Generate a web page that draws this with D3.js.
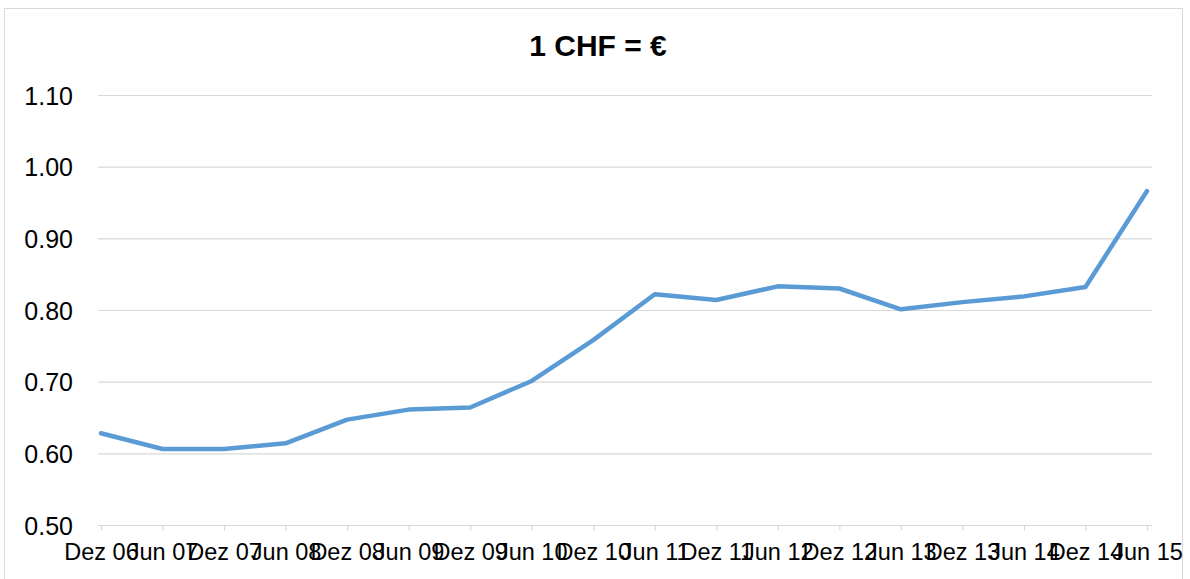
<!DOCTYPE html>
<html>
<head>
<meta charset="utf-8">
<script src="https://cdn.jsdelivr.net/npm/d3@7"></script>
<style>
  body { margin: 0; background: #fff; }
  text { font-family: "Liberation Sans", Arial, sans-serif; fill: #000; }
</style>
</head>
<body>
<div id="line"></div>
<script>
let categories = ["Dez 06", "Jun 07", "Dez 07", "Jun 08", "Dez 08", "Jun 09",
                  "Dez 09", "Jun 10", "Dez 10", "Jun 11", "Dez 11", "Jun 12",
                  "Dez 12", "Jun 13", "Dez 13", "Jun 14", "Dez 14", "Jun 15"];

let rates = [0.628, 0.606, 0.606, 0.614, 0.647, 0.661,
             0.664, 0.701, 0.758, 0.822, 0.814, 0.833,
             0.830, 0.801, 0.811, 0.819, 0.832, 0.966];

let yTicks = [0.50, 0.60, 0.70, 0.80, 0.90, 1.00, 1.10];

let chartTitle = "1 CHF = €";

let margin = {
  top:    95,
  right:  38,
  bottom: 54,
  left:   98
};

let exteriorWidth  = 1190,
    exteriorHeight = 579;

let interiorWidth  = exteriorWidth - margin.left - margin.right,
    interiorHeight = exteriorHeight - margin.top - margin.bottom;

let root =
  d3.select("#line")
    .append("svg")
      .attr("width", exteriorWidth)
      .attr("height", exteriorHeight);

// chart area frame
root.append("rect")
    .attr("x", 4.5)
    .attr("y", 8.5)
    .attr("width", 1178)
    .attr("height", 580)
    .attr("fill", "none")
    .attr("stroke", "#d9d9d9");

root.append("text")
    .attr("x", 598)
    .attr("y", 56)
    .attr("text-anchor", "middle")
    .attr("font-size", 30)
    .attr("font-weight", "bold")
    .text(chartTitle);

let svg = root.append("g")
    .attr("transform", translate(margin.left, margin.top));

let x = d3.scalePoint()
    .domain(categories)
    .range([3, interiorWidth - 5]);

let y = d3.scaleLinear()
    .domain([0.5, 1.1])
    .range([interiorHeight, 0]);

// gridlines
svg.append("g")
    .selectAll("line")
    .data(yTicks.slice(1))
    .enter()
    .append("line")
      .attr("x1", 0)
      .attr("x2", interiorWidth)
      .attr("y1", function(d) { return y(d) + 0.5; })
      .attr("y2", function(d) { return y(d) + 0.5; })
      .attr("stroke", "#d9d9d9")
      .attr("stroke-width", 1.2);

// y axis labels only
let yAxis = svg.append("g")
    .call(d3.axisLeft(y).tickValues(yTicks).tickFormat(d3.format(".2f")).tickSize(0).tickPadding(25));
yAxis.select(".domain").remove();
yAxis.selectAll("text")
    .attr("font-size", 25)
    .attr("font-family", "Liberation Sans, Arial, sans-serif")
    .attr("fill", "#000")
    .attr("dy", "0.36em");

// x axis
let xAxis = svg.append("g")
    .attr("transform", translate(0, interiorHeight + 0.5))
    .call(d3.axisBottom(x).tickSize(5).tickSizeOuter(0).tickPadding(13));
xAxis.select(".domain").remove();
xAxis.selectAll(".tick line")
    .attr("stroke", "#d9d9d9")
    .attr("stroke-width", 1.2);
xAxis.selectAll("text")
    .attr("font-size", 23.5)
    .attr("font-family", "Liberation Sans, Arial, sans-serif")
    .attr("fill", "#000");

xAxis.append("line")
    .attr("x1", 0)
    .attr("x2", interiorWidth)
    .attr("stroke", "#d9d9d9")
    .attr("stroke-width", 1.2);

let line = d3.line()
    .x(function(d, i) { return x(categories[i]); })
    .y(function(d) { return y(d); });

svg.append("path")
    .datum(rates)
    .attr("d", line)
    .attr("fill", "none")
    .attr("stroke", "#5b9bd5")
    .attr("stroke-width", 4.5)
    .attr("stroke-linejoin", "round")
    .attr("stroke-linecap", "round");

function translate(x, y=0) {
  return "translate({x}, {y})"
          .replace("{x}", x)
          .replace("{y}", y);
}
</script>
</body>
</html>
